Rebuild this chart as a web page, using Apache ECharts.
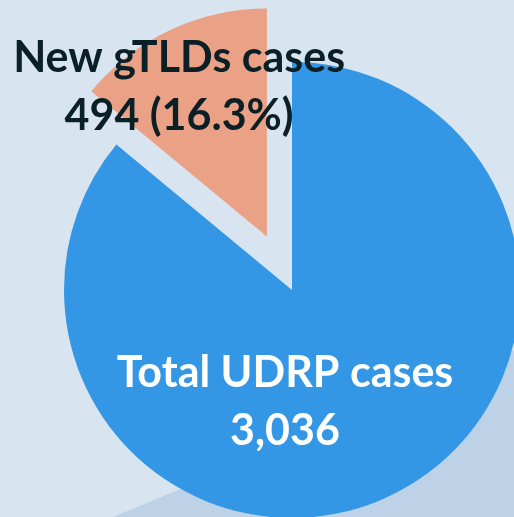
<!DOCTYPE html>
<html>
<head>
<meta charset="utf-8">
<script src="https://cdn.jsdelivr.net/npm/echarts@6/dist/echarts.min.js"></script>
<style>
html, body { margin: 0; padding: 0; }
#plot { width: 514px; height: 517px; }
</style>
</head>
<body>
<div id="plot"></div>
<script>
// slice names and values
var names = ['Total UDRP cases', 'New gTLDs cases'];
var values = [3036, 494];
var shares = ['', '16.3%'];
var colors = ['#3397e5', '#eaa185'];

var chart = echarts.init(document.getElementById('plot'));

chart.setOption({
    backgroundColor: '#d8e5f1',
    animation: false,
    graphic: [{
        type: 'polygon',
        z: -10,
        silent: true,
        shape: { points: [[113, 517], [514, 350], [514, 517]] },
        style: { fill: '#bdd2e7' }
    }],
    series: [{
        type: 'pie',
        center: [292, 290],
        radius: 228,
        startAngle: 90,
        clockwise: true,
        selectedMode: 'single',
        selectedOffset: 59,
        labelLine: { show: false },
        label: {
            show: true,
            position: 'inside',
            fontFamily: 'Lato',
            fontWeight: 'bold',
            fontSize: 43,
            lineHeight: 58,
            rich: {
                gap: { fontSize: 10, lineHeight: 88 }
            },
            formatter: function (p) {
                var v = p.value.toLocaleString('en-US');
                // empty bottom line pushes the selected label up
                if (p.dataIndex == 1) return p.name + '\n' + v + ' (' + shares[1] + ')\n{gap| }';
                return p.name + '\n' + v;
            }
        },
        labelLayout: function (params) {
            if (params.dataIndex == 0) {
                return { x: 285, y: 402, align: 'center', verticalAlign: 'middle' };
            }
        },
        data: names.map(function (n, i) {
            return {
                name: n,
                value: values[i],
                selected: i == 1,
                itemStyle: { color: colors[i] },
                // selected label ignores labelLayout, so nudge it left with padding
                label: i == 1
                    ? { color: '#0b1f26', padding: [0, 76, 0, 0] }
                    : { color: '#ffffff' }
            };
        })
    }]
});
</script>
</body>
</html>
